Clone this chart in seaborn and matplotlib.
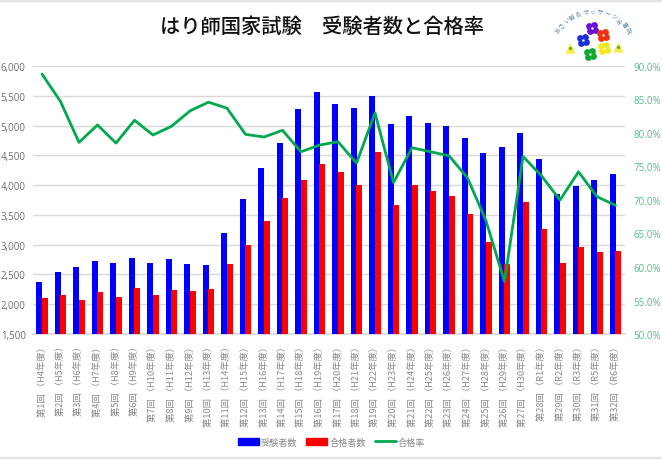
import numpy as np
import pandas as pd
import matplotlib
matplotlib.use("Agg")
import matplotlib.pyplot as plt
import seaborn as sns
from matplotlib.patches import Patch
from matplotlib.lines import Line2D

rounds = list(range(1, 33))
eras = ["H4","H5","H6","H7","H8","H9","H10","H11","H12","H13","H14","H15","H16","H17","H18","H19",
        "H20","H21","H22","H23","H24","H25","H26","H27","H28","H29","H30","R1","R2","R3","R5","R6"]
examinees = [2370,2540,2630,2720,2700,2770,2690,2760,2670,2660,3190,3760,4280,4710,5280,5560,
             5360,5290,5490,5020,5160,5050,4990,4790,4540,4640,4870,4440,3850,3990,4090,4180]
passers = [2100,2150,2070,2210,2120,2270,2150,2240,2230,2250,2680,3000,3400,3790,4080,4350,
           4220,4000,4560,3660,4010,3900,3810,3510,3040,2680,3720,3270,2700,2960,2880,2890]
rate = [88.8,84.7,78.6,81.2,78.5,81.9,79.7,81.0,83.3,84.6,83.7,79.8,79.4,80.4,77.2,78.2,
        78.7,75.5,83.0,72.6,77.8,77.2,76.6,73.3,66.9,57.8,76.5,73.6,70.0,74.2,70.5,69.2]
labels = [f"第{r}回 （{e}年度）" for r, e in zip(rounds, eras)]
title = "はり師国家試験　受験者数と合格率"
series_names = ["受験者数", "合格者数", "合格率"]
yticks_left = [1500,2000,2500,3000,3500,4000,4500,5000,5500,6000]
yticks_right = [50,55,60,65,70,75,80,85,90]
logo_text = "おさい鍼灸マッサージ治療院"

sns.set_theme(style="white")
plt.rcParams["font.family"] = ["Noto Sans CJK JP", "DejaVu Sans"]
W, H = 662, 460
fig = plt.figure(figsize=(W/100, H/100), dpi=100, facecolor="white")
ax = fig.add_axes([32.75/W, 1-335/H, 592/W, 268/H])

df = pd.DataFrame({"label": labels*2,
                   "value": examinees+passers,
                   "kind": [series_names[0]]*32+[series_names[1]]*32})
sns.barplot(data=df, x="label", y="value", hue="kind", ax=ax, width=0.585, gap=-0.1,
            palette=["#0000ff", "#ff0000"], legend=False, saturation=1, linewidth=0, zorder=3)
ax.set_ylim(1500, 6000)
ax.set_xlim(-0.5, 31.5)
ax.set_yticks(yticks_left)
ax.set_yticklabels([f"{v:,}" for v in yticks_left], fontsize=7.0, color="#6e6e6e",
                   family=["Open Sans"])
ax.tick_params(axis="y", length=0, pad=5)
ax.tick_params(axis="x", length=0, pad=5)
ax.set_xticks(range(32))
ax.set_xticklabels(labels, rotation=90, fontsize=6.7, color="#8a8a8a", ha="center", va="top")
ax.set_xlabel(""); ax.set_ylabel("")
ax.grid(axis="y", color="#d9d9d9", lw=1.0, zorder=0)
ax.set_axisbelow(True)
for s in ["top", "left", "right"]:
    ax.spines[s].set_visible(False)
ax.spines["bottom"].set_color("#d9d9d9")

ax2 = ax.twinx()
sns.lineplot(x=np.arange(32), y=rate, ax=ax2, color="#00a84f", lw=2.0, zorder=5)
ax2.set_ylim(50, 90)
ax2.set_yticks(yticks_right)
ax2.set_yticklabels([f"{v:.1f}%" for v in yticks_right], fontsize=7.0, color="#52bf86",
                    family=["Open Sans"])
ax2.tick_params(axis="y", length=0, pad=6.5)
ax2.grid(False)
for s in ax2.spines.values():
    s.set_visible(False)

fig.text(322/W, 1-27/H, title, fontsize=14.6, color="#111111", ha="center", va="center", weight="medium")

handles = [Patch(color="#0000ff"), Patch(color="#ff0000"), Line2D([], [], color="#00a84f", lw=2)]
fig.legend(handles, series_names, ncol=3, loc="center", bbox_to_anchor=(331.5/W, 1-443/H),
           frameon=False, fontsize=6.6, labelcolor="#8a8a8a", handlelength=2.3, handleheight=0.7,
           handletextpad=0.2, columnspacing=1.0, borderpad=0, borderaxespad=0)

# logo
lg = fig.add_axes([553/W, 1-66/H, 80/W, 60/H]); lg.set_xlim(553, 633); lg.set_ylim(66, 6); lg.axis("off")
flowers = [(592,29,"#6a10d8"),(603,36,"#f03010"),(583,41,"#1a30d8"),(604,49,"#f4e81a"),(590,55,"#10a830")]
for x, y, c in flowers:
    for a in np.arange(4)*np.pi/2+0.5:
        lg.scatter(x+3.4*np.cos(a), y+3.4*np.sin(a), s=24, color=c, lw=0)
    lg.scatter(x, y, s=3, color="white", lw=0, zorder=4)
lg.scatter([570, 618], [49, 48], s=55, marker="^", color="#f4f04a", lw=0)
lg.scatter([570, 618], [49, 48], s=6, color="#60b030", lw=0)
n = len(logo_text)
for i, ch in enumerate(logo_text):
    t = i/(n-1)
    ang = np.deg2rad(-155 + 130*t)
    lg.text(593+38*np.cos(ang), 45+33*np.sin(ang), ch, fontsize=4.2, color="#4a80a8", ha="center", va="center",
            rotation=-np.rad2deg(ang)-90)

fig.add_artist(plt.Rectangle((0, 1-2/H), 1, 2/H, color="#e3e3e3", transform=fig.transFigure))
fig.add_artist(plt.Rectangle((0, 0), 1, 2/H, color="#e3e3e3", transform=fig.transFigure))

fig.savefig("out.png", dpi=100)
